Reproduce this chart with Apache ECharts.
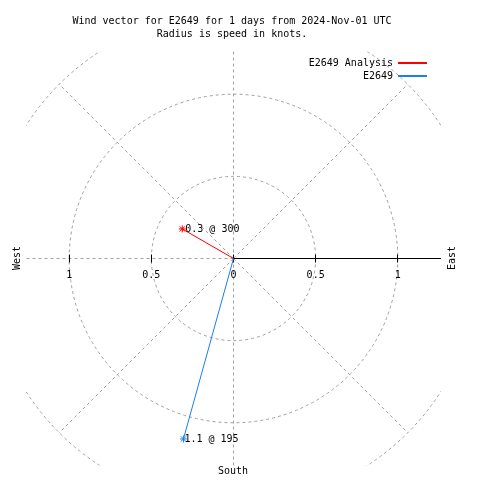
<!DOCTYPE html>
<html><head><meta charset="utf-8">
<script src="https://cdn.jsdelivr.net/npm/echarts@6/dist/echarts.min.js"></script>
<style>html,body{margin:0;padding:0;background:#fff}#c{width:480px;height:480px}</style>
</head><body><div id="c"></div>
<script>
const titleLines = ['Wind vector for E2649 for 1 days from 2024-Nov-01 UTC', 'Radius is speed in knots.'];
const seriesNames = ['E2649 Analysis', 'E2649'];
const speeds = [0.36, 1.14];
const directions = [300, 195.5];
const pointLabels = ['0.3 @ 300', '1.1 @ 195'];
const rings = [0.5, 1.0, 1.5];
const spokeAngles = [0, 45, 135, 180, 225, 270, 315];
const axisAngle = 90;
const tickValues = [-1, -0.5, 0, 0.5, 1];
const tickLabels = ['1', '0.5', '0', '0.5', '1'];
const compassNames = ['South', 'West', 'East'];
const axisRange = 1.26;
const spokeLength = 1.5;

const colors = ['#ff0000', '#1a80e6'];
const labelOffsets = [[-3, 0], [-5, 0]];
const FONT = 'DejaVu Sans Mono';
const gridColor = '#a0a0a0';
const rad = d => d * Math.PI / 180;
const toXY = (s, d) => [s * Math.sin(rad(d)), s * Math.cos(rad(d))];
const ASTER = 'path://M0,-4L0,4M-4,0L4,0M-3,-3L3,3M-3,3L3,-3';

const chart = echarts.init(document.getElementById('c'), null, {renderer: 'canvas'});

const lineSeries = seriesNames.map((name, i) => ({
  name, type: 'line', z: 10,
  color: colors[i],
  lineStyle: {color: colors[i], width: 1},
  symbol: 'none',
  animation: false,
  data: [
    {value: [0, 0], symbol: 'none'},
    {value: toXY(speeds[i], directions[i]), symbol: ASTER, symbolSize: 7,
     itemStyle: {color: 'none', borderColor: colors[i], borderWidth: 1},
     label: {show: true, position: 'right', distance: 0, offset: labelOffsets[i], formatter: pointLabels[i],
             color: '#000', fontFamily: FONT, fontSize: 10}}
  ]
}));

const option = {
  animation: false,
  backgroundColor: '#fff',
  title: {
    text: titleLines.join('\n'), left: 227, top: 10, textAlign: 'center',
    textStyle: {fontFamily: FONT, fontSize: 10, fontWeight: 'normal', color: '#000', lineHeight: 13}
  },
  legend: {
    data: seriesNames, orient: 'vertical', right: 48, top: 52, align: 'right',
    icon: 'rect', itemWidth: 29, itemHeight: 2, itemGap: 1,
    textStyle: {fontFamily: FONT, fontSize: 10, color: '#000', lineHeight: 12}
  },
  grid: {left: 26.5, top: 51.5, width: 414, height: 414, show: false},
  xAxis: {type: 'value', min: -axisRange, max: axisRange, show: false},
  yAxis: {type: 'value', min: -axisRange, max: axisRange, show: false},
  graphic: [
    {type: 'text', x: 233, y: 471, style: {text: compassNames[0], font: '10px ' + FONT, fill: '#000', textAlign: 'center', textVerticalAlign: 'middle'}},
    {type: 'text', x: 17, y: 258, rotation: Math.PI / 2, style: {text: compassNames[1], font: '10px ' + FONT, fill: '#000', textAlign: 'center', textVerticalAlign: 'middle'}},
    {type: 'text', x: 452, y: 258, rotation: Math.PI / 2, style: {text: compassNames[2], font: '10px ' + FONT, fill: '#000', textAlign: 'center', textVerticalAlign: 'middle'}}
  ],
  series: [
    {
      type: 'custom', clip: true, z: 1, silent: true,
      data: rings.map(r => [r, 0]),
      encode: {x: 0, y: 1},
      renderItem: (params, api) => {
        const c = api.coord([0, 0]);
        const r = api.size([api.value(0), 0])[0];
        return {type: 'circle', shape: {cx: c[0], cy: c[1], r},
                style: {fill: 'none', stroke: gridColor, lineWidth: 1, lineDash: [3, 3]}};
      }
    },
    {
      type: 'custom', clip: true, z: 2, silent: true,
      data: spokeAngles.map(a => [a, 0]),
      encode: {x: 1, y: 1},
      renderItem: (params, api) => {
        const c = api.coord([0, 0]);
        const e = api.coord(toXY(spokeLength, api.value(0)));
        return {type: 'line', shape: {x1: c[0], y1: c[1], x2: e[0], y2: e[1]},
                style: {stroke: gridColor, lineWidth: 1, lineDash: [3, 3]}};
      }
    },
    {
      type: 'custom', clip: true, z: 3, silent: true,
      data: [[axisAngle, 0]],
      encode: {x: 1, y: 1},
      renderItem: (params, api) => {
        const c = api.coord([0, 0]);
        const e = api.coord(toXY(spokeLength, api.value(0)));
        return {type: 'line', shape: {x1: c[0], y1: c[1], x2: e[0], y2: e[1]},
                style: {stroke: '#000', lineWidth: 1}};
      }
    },
    {
      type: 'custom', clip: false, z: 4, silent: true,
      data: tickValues.map((v, i) => [v, 0, i]),
      encode: {x: 0, y: 1},
      renderItem: (params, api) => {
        const p = api.coord([api.value(0), 0]);
        const x = Math.round(p[0] - 0.5) + 0.5;
        return {type: 'group', children: [
          {type: 'line', shape: {x1: x, y1: p[1] - 4, x2: x, y2: p[1] + 4}, style: {stroke: '#000', lineWidth: 1}},
          {type: 'text', x: p[0], y: p[1] + 17,
           style: {text: tickLabels[api.value(2)], font: '10px ' + FONT, fill: '#000', textAlign: 'center', textVerticalAlign: 'middle'}}
        ]};
      }
    },
    ...lineSeries
  ]
};
chart.setOption(option);
</script>
</body></html>
